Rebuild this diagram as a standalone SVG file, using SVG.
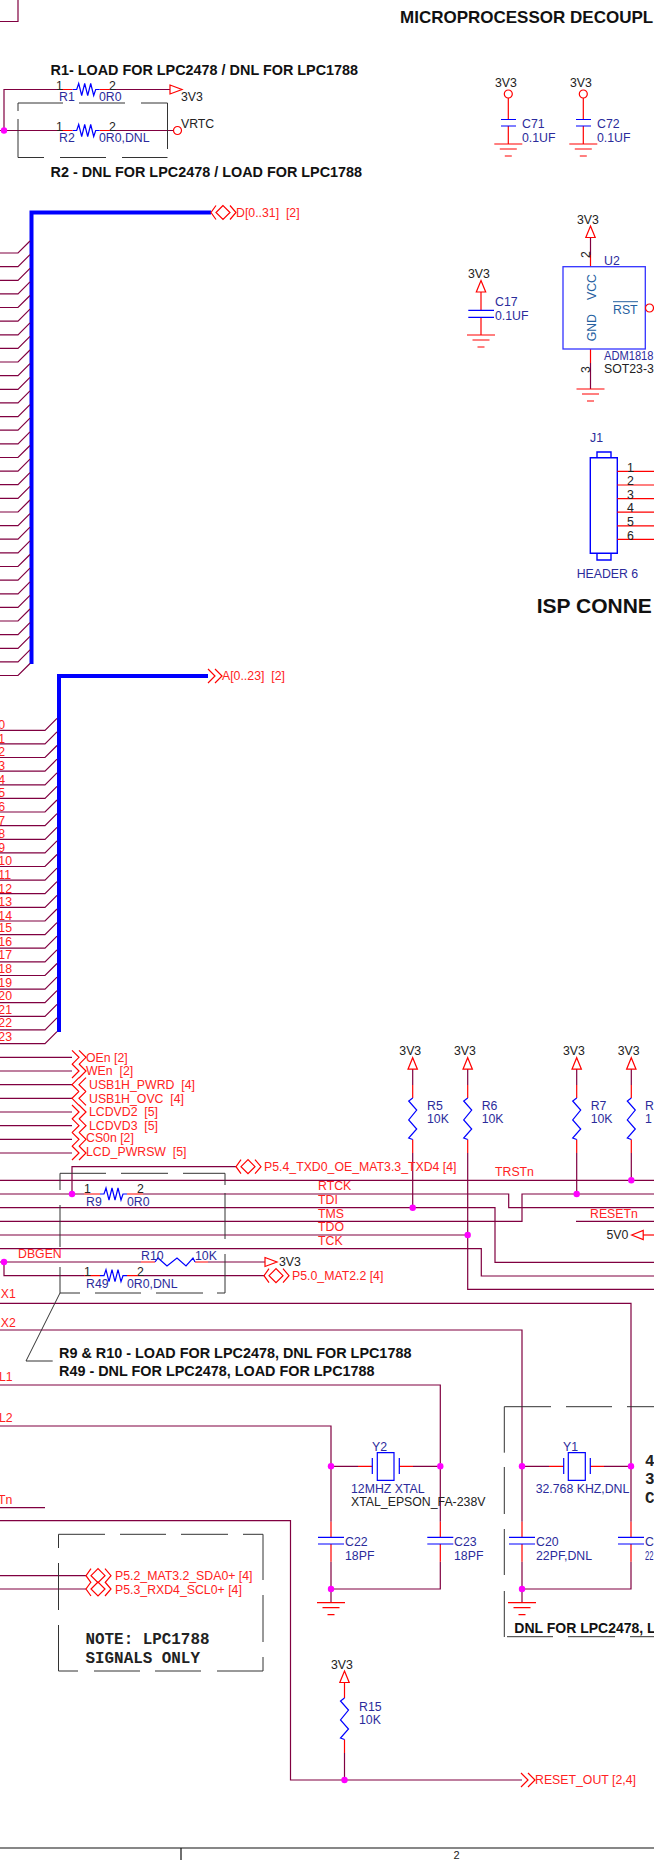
<svg xmlns="http://www.w3.org/2000/svg" xmlns:xlink="http://www.w3.org/1999/xlink" width="654" height="1860" viewBox="0 0 654 1860">
<style>
text{font-family:"Liberation Sans",Arial,sans-serif;font-size:12.3px;fill:#222;white-space:pre}
.r{fill:#f22}
.n{fill:#2b2b9b}
.s{fill:#25609f}
.b{font-weight:bold;font-size:14.4px;fill:#111}
.m{font-family:"Liberation Mono","Courier New",monospace;font-weight:bold;font-size:15.9px;fill:#222}
.p{font-size:11px}
.w{fill:none;stroke:#800040;stroke-width:1.2}
.rl{fill:none;stroke:#f00;stroke-width:1.2}
.bl{fill:none;stroke:#00f;stroke-width:1.2}
.d{fill:none;stroke:#333;stroke-width:1}
.bus{fill:none;stroke:#00f;stroke-width:4}
.j{fill:#f0f}
</style>
<defs>
<g id="gnd" class="rl"><path d="M-14 0H14M-8.5 5H8.5M-3.5 12H3.5"/></g>
<path id="up" class="rl" d="M0 0L4.7 11.5H-4.7Z"/>
<path id="rt" class="rl" d="M0 -4.5L12 0L0 4.5Z"/>
<path id="lt" class="rl" d="M0 0L11.5 -4.5V4.5Z"/>
<circle id="pc" class="rl" r="4"/>
<path id="dbl" class="rl" d="M0 -7L7 0L0 7M7 -7L14 0L7 7"/>
<path id="dbr" class="rl" d="M7 -7L0 0L7 7M14 -7L7 0L14 7"/>
<path id="bi" class="rl" d="M5 -7L0 0L5 7M12 -7L5 0L12 7L19 0ZM19 -7L25 0L19 7"/>
<path id="rs" class="bl" d="M0 0H4L6 -6L9 6L12 -6L15 6L18 -6L21 6L23 0H27"/>
<path id="rv" class="bl" d="M0 0L-4 3L4 12L-4 22L4 31L-4 40L0 41.5"/>
<path id="capv" class="bl" d="M-13 0H13M-13 6.7H13"/>
<circle id="jn" class="j" r="3.2"/>
</defs>

<g id="connectors">
<path class="bus" d="M211 212.5H31.5V664"/>
<path class="bus" d="M208 676H59V1032"/>
<path class="w" d="M0 21.5H18V0"/>
<path class="w" d="M60 89.5H4V130.5M60 130.5H0M113 89.5H170M113 130.5H173"/>
<path class="w" d="M0 253H18L30 241M0 266.6H18L30 254.6M0 280.3H18L30 268.3M0 293.9H18L30 281.9M0 307.5H18L30 295.5M0 321.2H18L30 309.2M0 334.8H18L30 322.8M0 348.4H18L30 336.4M0 362H18L30 350M0 375.7H18L30 363.7M0 389.3H18L30 377.3M0 402.9H18L30 390.9M0 416.6H18L30 404.6M0 430.2H18L30 418.2M0 443.8H18L30 431.8M0 457.5H18L30 445.5M0 471.1H18L30 459.1M0 484.7H18L30 472.7M0 498.3H18L30 486.3M0 512H18L30 500M0 525.6H18L30 513.6M0 539.2H18L30 527.2M0 552.9H18L30 540.9M0 566.5H18L30 554.5M0 580.1H18L30 568.1M0 593.8H18L30 581.8M0 607.4H18L30 595.4M0 621H18L30 609M0 634.6H18L30 622.6M0 648.3H18L30 636.3M0 661.9H18L30 649.9M0 675.5H18L30 663.5"/>
<path class="w" d="M0 730.3H45L57 718.3M0 743.9H45L57 731.9M0 757.5H45L57 745.5M0 771.2H45L57 759.2M0 784.8H45L57 772.8M0 798.4H45L57 786.4M0 812H45L57 800M0 825.6H45L57 813.6M0 839.3H45L57 827.3M0 852.9H45L57 840.9M0 866.5H45L57 854.5M0 880.1H45L57 868.1M0 893.7H45L57 881.7M0 907.4H45L57 895.4M0 921H45L57 909M0 934.6H45L57 922.6M0 948.2H45L57 936.2M0 961.8H45L57 949.8M0 975.5H45L57 963.5M0 989.1H45L57 977.1M0 1002.7H45L57 990.7M0 1016.3H45L57 1004.3M0 1029.9H45L57 1017.9M0 1043.6H45L57 1031.6"/>
<path class="w" d="M0 1057.3H72M0 1071H72M0 1084.7H72M0 1098.3H72M0 1112H72M0 1125.7H72M0 1139.3H72M0 1153H72"/>
<path class="w" d="M72 1194V1166.7H236"/>
<path class="w" d="M0 1180.3H654"/>
<path class="w" d="M0 1194H84M143 1194H508.7V1207.7H654"/>
<path class="w" d="M0 1207.7H495V1262.3H654"/>
<path class="w" d="M0 1221.3H522V1194H654"/>
<path class="w" d="M0 1235H467.7"/>
<path class="w" d="M0 1248.7H481.3V1276H654"/>
<path class="w" d="M576 1221.3H654"/>
<path class="rl" d="M643 1235H654"/>
<path class="w" d="M0 1262H141M208 1262H265"/>
<path class="w" d="M4 1262V1275.7H84M143 1275.7H265"/>
<path class="w" d="M412.7 1153V1207.7M467.7 1153V1289.3H654M576.7 1153V1194M631.3 1153V1180.3"/>
<path class="w" d="M412.7 1069V1085M467.7 1069V1085M576.7 1069V1085M631.3 1069V1085"/>
<path class="w" d="M0 1303.3H631V1521.7M631 1561.7V1589H522"/>
<path class="w" d="M0 1330H522V1521.7M522 1561.7V1602.7"/>
<path class="w" d="M0 1385H440.3V1521.7M440.3 1561.7V1589H331"/>
<path class="w" d="M0 1426H331V1521.7M331 1561.7V1602.7"/>
<path class="w" d="M331 1466.3H358M413 1466.3H440.3M522 1466.3H549M604 1466.3H631"/>
<path class="w" d="M0 1507.7H45"/>
<path class="w" d="M0 1520.7H290.5V1780H522"/>
<path class="w" d="M0 1575.7H86M0 1589H86"/>
<path class="w" d="M344.5 1753V1780"/>
<path class="w" d="M590.5 237.5V255M590.5 363V389"/>
</g>

<g id="header-text">
<text class="b" x="400" y="22.7" style="font-size:17px">MICROPROCESSOR DECOUPL</text>
<text class="b" x="50.5" y="75">R1- LOAD FOR LPC2478 / DNL FOR LPC1788</text>
<text class="b" x="50.5" y="176.7">R2 - DNL FOR LPC2478 / LOAD FOR LPC1788</text>
<text class="b" x="59" y="1358">R9 &amp; R10 - LOAD FOR LPC2478, DNL FOR LPC1788</text>
<text class="b" x="59" y="1376">R49 - DNL FOR LPC2478, LOAD FOR LPC1788</text>
<text class="b" x="514.3" y="1633" style="font-size:14px">DNL FOR LPC2478, L</text>
<text class="b" x="536.7" y="613" style="font-size:21px">ISP CONNE</text>
<text class="m" x="85.5" y="1644">NOTE: LPC1788</text>
<text class="m" x="85.5" y="1663">SIGNALS ONLY</text>
<text class="m" x="645" y="1466">4</text>
<text class="m" x="645" y="1484">3</text>
<text class="m" x="645" y="1503">C</text>
</g>

<g id="note-boxes">
<path class="d" d="M18 111V103H63M79 103H125M141 103H167.5V149M18 119V157.5H44M60 157.5H106M122 157.5H167.5"/>
<path class="d" d="M60 1190V1173.3H106M121 1173.3H168M183 1173.3H225V1185M225 1193V1239M225 1254V1293H217M203 1293H156M141 1293H95M80 1293H60V1267M60 1247V1205"/>
<path class="d" d="M60 1293L26 1361H52.7"/>
<path class="d" d="M58.5 1548V1534.3H105M120 1534.3H166M181 1534.3H228M243 1534.3H263V1580M263 1595V1642M263 1657V1671H217M201 1671H155M140 1671H94M78 1671H58.5V1625M58.5 1610V1563"/>
<path class="d" d="M504.3 1452.7V1406.7H551M566 1406.7H612M627 1406.7H654M504.3 1467V1514M504.3 1529V1575M504.3 1591V1637M507 1636.7H553M568 1636.7H615M630 1636.7H654"/>
</g>

<g id="R1"><path class="rl" d="M60 89.5H72.7M99.7 89.5H113"/><use xlink:href="#rs" href="#rs" x="72.7" y="89.5"/><text x="56" y="90">1</text><text x="109" y="90">2</text><text class="n" x="59" y="101">R1</text><text class="n" x="99" y="101">0R0</text></g>
<g id="R2"><path class="rl" d="M60 130.5H72.7M99.7 130.5H113"/><use xlink:href="#rs" href="#rs" x="72.7" y="130.5"/><text x="56" y="131">1</text><text x="109" y="131">2</text><text class="n" x="59" y="142">R2</text><text class="n" x="99" y="142">0R0,DNL</text></g>
<g id="pwr-3V3-R1"><use xlink:href="#rt" href="#rt" x="170" y="89.5"/><text x="181" y="101">3V3</text></g>
<g id="pwr-VRTC"><use xlink:href="#pc" href="#pc" x="177.5" y="130.5"/><text x="181" y="128">VRTC</text></g>
<g id="port-D"><use xlink:href="#bi" href="#bi" x="211" y="212.5"/><text class="r" x="236" y="217">D[0..31]  [2]</text></g>
<g id="port-A"><use xlink:href="#dbl" href="#dbl" x="208" y="676"/><text class="r" x="222" y="680">A[0..23]  [2]</text></g>

<g id="C71"><text x="495" y="87">3V3</text><use xlink:href="#pc" href="#pc" x="508.3" y="94"/><path class="rl" d="M508.3 98V119.5M508.3 126V144"/><path class="bl" d="M501 119.5H516M501 126H516"/><use xlink:href="#gnd" href="#gnd" x="508.3" y="144"/><text class="n" x="522" y="128.3">C71</text><text class="n" x="522" y="142">0.1UF</text></g>
<g id="C72"><text x="570" y="87">3V3</text><use xlink:href="#pc" href="#pc" x="583.3" y="94"/><path class="rl" d="M583.3 98V119.5M583.3 126V144"/><path class="bl" d="M576 119.5H591M576 126H591"/><use xlink:href="#gnd" href="#gnd" x="583.3" y="144"/><text class="n" x="597" y="128.3">C72</text><text class="n" x="597" y="142">0.1UF</text></g>
<g id="C17"><text x="468" y="278">3V3</text><use xlink:href="#up" href="#up" x="481" y="280.5"/><path class="rl" d="M481 292V310.3M481 317.3V335"/><path class="bl" d="M468.3 310.3H494M468.3 317.3H494"/><use xlink:href="#gnd" href="#gnd" x="481" y="335"/><text class="n" x="495" y="306">C17</text><text class="n" x="495" y="319.5">0.1UF</text></g>
<g id="U2"><text x="577" y="224">3V3</text><use xlink:href="#up" href="#up" x="590.5" y="226"/>
<path class="rl" d="M590.5 255V266.7M590.5 349V363M653.5 308H654"/>
<rect x="563" y="266.7" width="82.3" height="82.3" fill="none" stroke="#33f" stroke-width="1.3"/>
<text transform="translate(589.5 258) rotate(-90)">2</text><text transform="translate(589.5 373) rotate(-90)">3</text>
<text class="s" text-anchor="middle" transform="translate(596 287) rotate(-90)">VCC</text><text class="s" text-anchor="middle" transform="translate(596 327.7) rotate(-90)">GND</text>
<text class="s" x="613" y="314">RST</text><path d="M613 301.7H638" stroke="#25609f" stroke-width="1"/>
<use xlink:href="#pc" href="#pc" x="649.5" y="308"/>
<text class="n" x="604" y="265">U2</text><text class="n" x="604" y="360" textLength="49.5" lengthAdjust="spacingAndGlyphs">ADM1818</text><text x="604" y="373">SOT23-3</text>
<use xlink:href="#gnd" href="#gnd" x="590.5" y="389"/></g>
<g id="J1"><text class="n" x="590" y="441.7">J1</text>
<path class="bl" style="stroke-width:1.4" d="M590.3 457.7H617.3V553.3H590.3ZM597 457.7V452H611V457.7M597 553.3V560H611V553.3"/>
<path class="rl" d="M617.3 471.3H654M617.3 485H654M617.3 498.6H654M617.3 512.2H654M617.3 525.8H654M617.3 539.4H654"/>
<text x="627" y="471.5">1</text><text x="627" y="485">2</text><text x="627" y="499">3</text><text x="627" y="512">4</text><text x="627" y="526">5</text><text x="627" y="539.5">6</text>
<text class="n" x="576.7" y="577.7">HEADER 6</text></g>

<g id="A-labels">
<text class="r" x="-1.7" y="729">0</text><text class="r" x="-1.7" y="743">1</text><text class="r" x="-1.7" y="756">2</text><text class="r" x="-1.7" y="770">3</text><text class="r" x="-1.7" y="784">4</text><text class="r" x="-1.7" y="797">5</text><text class="r" x="-1.7" y="811">6</text><text class="r" x="-1.7" y="825">7</text><text class="r" x="-1.7" y="838">8</text><text class="r" x="-1.7" y="852">9</text><text class="r" x="-1.7" y="865">10</text><text class="r" x="-1.7" y="879">11</text><text class="r" x="-1.7" y="893">12</text><text class="r" x="-1.7" y="906">13</text><text class="r" x="-1.7" y="920">14</text><text class="r" x="-1.7" y="932">15</text><text class="r" x="-1.7" y="946">16</text><text class="r" x="-1.7" y="959">17</text><text class="r" x="-1.7" y="973">18</text><text class="r" x="-1.7" y="987">19</text><text class="r" x="-1.7" y="1000">20</text><text class="r" x="-1.7" y="1014">21</text><text class="r" x="-1.7" y="1027">22</text><text class="r" x="-1.7" y="1041">23</text>
</g>

<g id="port-OEn"><use xlink:href="#dbl" href="#dbl" x="72" y="1057.3"/><text class="r" x="86" y="1061.5">OEn [2]</text></g>
<g id="port-WEn"><use xlink:href="#dbl" href="#dbl" x="72" y="1071"/><text class="r" x="86" y="1075">WEn  [2]</text></g>
<g id="port-USB1H_PWRD"><use xlink:href="#dbr" href="#dbr" x="72" y="1084.7"/><text class="r" x="89" y="1089">USB1H_PWRD  [4]</text></g>
<g id="port-USB1H_OVC"><use xlink:href="#dbr" href="#dbr" x="72" y="1098.3"/><text class="r" x="89" y="1103">USB1H_OVC  [4]</text></g>
<g id="port-LCDVD2"><use xlink:href="#dbl" href="#dbl" x="72" y="1112"/><text class="r" x="89" y="1116">LCDVD2  [5]</text></g>
<g id="port-LCDVD3"><use xlink:href="#dbl" href="#dbl" x="72" y="1125.7"/><text class="r" x="89" y="1130">LCDVD3  [5]</text></g>
<g id="port-CS0n"><use xlink:href="#dbl" href="#dbl" x="72" y="1139.3"/><text class="r" x="86" y="1142">CS0n [2]</text></g>
<g id="port-LCD_PWRSW"><use xlink:href="#dbl" href="#dbl" x="72" y="1153"/><text class="r" x="86" y="1156">LCD_PWRSW  [5]</text></g>
<g id="port-P54"><use xlink:href="#bi" href="#bi" x="236" y="1166.7"/><text class="r" x="264" y="1171">P5.4_TXD0_OE_MAT3.3_TXD4 [4]</text></g>
<g id="port-P50"><use xlink:href="#bi" href="#bi" x="264" y="1275.7"/><text class="r" x="292" y="1280">P5.0_MAT2.2 [4]</text></g>
<g id="port-P52"><use xlink:href="#bi" href="#bi" x="86" y="1575.7"/><text class="r" x="115" y="1580">P5.2_MAT3.2_SDA0+ [4]</text></g>
<g id="port-P53"><use xlink:href="#bi" href="#bi" x="86" y="1589"/><text class="r" x="115" y="1594">P5.3_RXD4_SCL0+ [4]</text></g>
<g id="port-RESET_OUT"><use xlink:href="#dbl" href="#dbl" x="521" y="1780"/><text class="r" x="535" y="1784">RESET_OUT [2,4]</text></g>

<g id="net-labels">
<text class="r" x="318" y="1190.3">RTCK</text><text class="r" x="318" y="1204">TDI</text><text class="r" x="318" y="1218">TMS</text><text class="r" x="318" y="1231">TDO</text><text class="r" x="318" y="1245">TCK</text>
<text class="r" x="495" y="1176">TRSTn</text><text class="r" x="590" y="1218">RESETn</text><text class="r" x="18" y="1258">DBGEN</text>
<text class="r" x="0.7" y="1298.3">X1</text><text class="r" x="0.7" y="1327">X2</text><text class="r" x="-1" y="1381">L1</text><text class="r" x="-1" y="1422">L2</text><text class="r" x="-2" y="1504">Tn</text>
</g>
<g id="pwr-5V0"><text x="606.5" y="1239">5V0</text><use xlink:href="#lt" href="#lt" x="631.7" y="1235"/></g>

<g id="R9"><path class="rl" d="M84 1194H100M127 1194H143"/><use xlink:href="#rs" href="#rs" x="100" y="1194"/><text x="84" y="1193">1</text><text x="137" y="1193">2</text><text class="n" x="86" y="1206">R9</text><text class="n" x="127" y="1206">0R0</text></g>
<g id="R10"><path class="rl" d="M141 1262H155M195 1262H208"/><path class="bl" d="M155 1262L158 1258L167 1266L177 1258L186 1266L193 1258L195 1262"/><text class="n" x="141" y="1260">R10</text><text class="n" x="195" y="1260">10K</text></g>
<g id="R49"><path class="rl" d="M84 1275.7H100M127 1275.7H143"/><use xlink:href="#rs" href="#rs" x="100" y="1275.7"/><text x="84" y="1276">1</text><text x="137" y="1276">2</text><text class="n" x="86" y="1288">R49</text><text class="n" x="127" y="1288">0R0,DNL</text></g>
<g id="pwr-3V3-R10"><use xlink:href="#rt" href="#rt" x="265" y="1262"/><text x="279" y="1266">3V3</text></g>

<g id="R5"><text x="399.3" y="1055">3V3</text><use xlink:href="#up" href="#up" x="412.7" y="1057.7"/><path class="rl" d="M412.7 1085V1098M412.7 1139.5V1153"/><use xlink:href="#rv" href="#rv" x="412.7" y="1098"/><text class="n" x="427" y="1110">R5</text><text class="n" x="427" y="1123">10K</text></g>
<g id="R6"><text x="454" y="1055">3V3</text><use xlink:href="#up" href="#up" x="467.7" y="1057.7"/><path class="rl" d="M467.7 1085V1098M467.7 1139.5V1153"/><use xlink:href="#rv" href="#rv" x="467.7" y="1098"/><text class="n" x="481.7" y="1110">R6</text><text class="n" x="481.7" y="1123">10K</text></g>
<g id="R7"><text x="563" y="1055">3V3</text><use xlink:href="#up" href="#up" x="576.7" y="1057.7"/><path class="rl" d="M576.7 1085V1098M576.7 1139.5V1153"/><use xlink:href="#rv" href="#rv" x="576.7" y="1098"/><text class="n" x="590.7" y="1110">R7</text><text class="n" x="590.7" y="1123">10K</text></g>
<g id="R8"><text x="617.7" y="1055">3V3</text><use xlink:href="#up" href="#up" x="631.3" y="1057.7"/><path class="rl" d="M631.3 1085V1098M631.3 1139.5V1153"/><use xlink:href="#rv" href="#rv" x="631.3" y="1098"/><text class="n" x="645" y="1110">R</text><text class="n" x="645" y="1123">1</text></g>

<g id="Y2"><path class="rl" d="M358 1466.3H372.3M399.3 1466.3H413"/><path class="bl" d="M372.3 1458V1474M399.3 1458V1474M377.3 1452.7H394V1480.3H377.3Z"/><text class="n" x="372" y="1451">Y2</text><text class="n" x="351" y="1492.5">12MHZ XTAL</text><text x="351" y="1506">XTAL_EPSON_FA-238V</text></g>
<g id="Y1"><path class="rl" d="M549 1466.3H563.7M590.3 1466.3H604"/><path class="bl" d="M563.7 1458V1474M590.3 1458V1474M568.3 1452.7H585.3V1480.3H568.3Z"/><text class="n" x="563" y="1451">Y1</text><text class="n" x="535.7" y="1492.5">32.768 KHZ,DNL</text></g>
<g id="C22"><path class="rl" d="M331 1521.7V1537.3M331 1544V1561.7"/><use xlink:href="#capv" href="#capv" x="331" y="1537.3"/><text class="n" x="345" y="1546">C22</text><text class="n" x="345" y="1560">18PF</text></g>
<g id="C23"><path class="rl" d="M440.3 1521.7V1537.3M440.3 1544V1561.7"/><use xlink:href="#capv" href="#capv" x="440.3" y="1537.3"/><text class="n" x="454" y="1546">C23</text><text class="n" x="454" y="1560">18PF</text></g>
<g id="C20"><path class="rl" d="M522 1521.7V1537.3M522 1544V1561.7"/><use xlink:href="#capv" href="#capv" x="522" y="1537.3"/><text class="n" x="536" y="1546">C20</text><text class="n" x="536" y="1560">22PF,DNL</text></g>
<g id="C21"><path class="rl" d="M631 1521.7V1537.3M631 1544V1561.7"/><use xlink:href="#capv" href="#capv" x="631" y="1537.3"/><text class="n" x="645" y="1546">C</text><text class="n" x="645" y="1560" textLength="8.5" lengthAdjust="spacingAndGlyphs">22</text></g>
<g id="gnd-Y2"><use xlink:href="#gnd" href="#gnd" x="331" y="1602.7"/></g>
<g id="gnd-Y1"><use xlink:href="#gnd" href="#gnd" x="522" y="1602.7"/></g>
<g id="R15"><text x="331" y="1669">3V3</text><use xlink:href="#up" href="#up" x="344.5" y="1671"/><path class="rl" d="M344.5 1682.5V1698M344.5 1739.5V1753"/><use xlink:href="#rv" href="#rv" x="344.5" y="1698"/><text class="n" x="359" y="1711">R15</text><text class="n" x="359" y="1724">10K</text></g>

<g id="junctions">
<use xlink:href="#jn" href="#jn" x="4" y="130.5"/><use xlink:href="#jn" href="#jn" x="72" y="1194"/><use xlink:href="#jn" href="#jn" x="4" y="1262"/>
<use xlink:href="#jn" href="#jn" x="412.7" y="1207.7"/><use xlink:href="#jn" href="#jn" x="467.7" y="1235"/><use xlink:href="#jn" href="#jn" x="576.7" y="1194"/><use xlink:href="#jn" href="#jn" x="631.3" y="1180.3"/>
<use xlink:href="#jn" href="#jn" x="331" y="1466.3"/><use xlink:href="#jn" href="#jn" x="440.3" y="1466.3"/><use xlink:href="#jn" href="#jn" x="522" y="1466.3"/><use xlink:href="#jn" href="#jn" x="631" y="1466.3"/>
<use xlink:href="#jn" href="#jn" x="331" y="1589"/><use xlink:href="#jn" href="#jn" x="522" y="1589"/><use xlink:href="#jn" href="#jn" x="344.5" y="1780"/>
</g>

<g id="frame"><path d="M0 1848H654M181 1848V1860" fill="none" stroke="#111" stroke-width="1.2"/><text class="p" x="453.5" y="1859">2</text></g>
</svg>
